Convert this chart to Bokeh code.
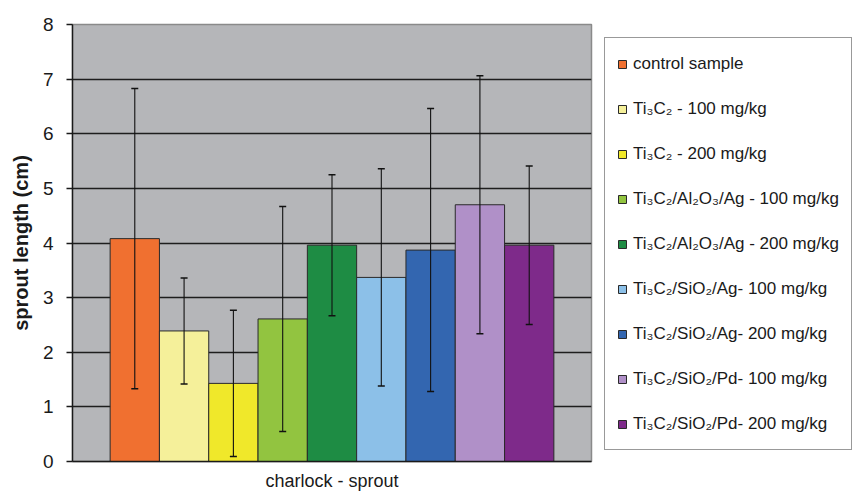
from bokeh.plotting import figure
from bokeh.models import (ColumnDataSource, FactorRange, Range1d, Whisker, Legend,
                          LegendItem, FixedTicker, TeeHead)
from bokeh.transform import dodge
from bokeh.embed import file_html
from bokeh.resources import INLINE

# ---- data ----
group = ["charlock - sprout"]
series = [
    "control sample",
    "Ti₃C₂ - 100 mg/kg",
    "Ti₃C₂ - 200 mg/kg",
    "Ti₃C₂/Al₂O₃/Ag - 100 mg/kg",
    "Ti₃C₂/Al₂O₃/Ag - 200 mg/kg",
    "Ti₃C₂/SiO₂/Ag- 100 mg/kg",
    "Ti₃C₂/SiO₂/Ag- 200 mg/kg",
    "Ti₃C₂/SiO₂/Pd- 100 mg/kg",
    "Ti₃C₂/SiO₂/Pd- 200 mg/kg",
]
means = [4.08, 2.39, 1.43, 2.61, 3.96, 3.37, 3.87, 4.70, 3.96]
sds = [2.75, 0.97, 1.34, 2.06, 1.29, 1.99, 2.59, 2.36, 1.45]
colors = ["#F07030", "#F5F09A", "#F0E82A", "#92C440", "#1E8C44",
          "#8CC0E8", "#3366B0", "#B090C8", "#7E2A8A"]
y_ticks = [0, 1, 2, 3, 4, 5, 6, 7, 8]

FONT = "Liberation Sans"

p = figure(frame_width=519, frame_height=437,
           x_range=FactorRange(*group, range_padding=0),
           y_range=Range1d(0, 8),
           output_backend="svg", toolbar_location=None,
           min_border_left=72, min_border_right=0,
           min_border_top=24, min_border_bottom=33)

p.background_fill_color = "#B5B6B9"
p.border_fill_color = "white"
p.outline_line_color = "#8A8A8A"
p.outline_line_width = 1.5

bw = 0.95 / len(series) * 0.9
items = []
for i, (name, m, s, c) in enumerate(zip(series, means, sds, colors)):
    off = (i - (len(series) - 1) / 2) * bw
    src = ColumnDataSource(dict(x=group, top=[m], upper=[m + s], lower=[m - s]))
    r = p.vbar(x=dodge("x", off, range=p.x_range), top="top", width=bw, source=src,
               fill_color=c, line_color="#2A2A2A", line_width=1)
    w = Whisker(base=dodge("x", off, range=p.x_range), upper="upper", lower="lower",
                source=src, line_color="#111111", line_width=1.1, level="overlay",
                upper_head=TeeHead(size=7, line_color="#111111", line_width=1.5),
                lower_head=TeeHead(size=7, line_color="#111111", line_width=1.5))
    p.add_layout(w)
    items.append(LegendItem(label=name, renderers=[r]))

# grid
p.xgrid.grid_line_color = None
p.ygrid.ticker = FixedTicker(ticks=y_ticks[1:-1])
p.ygrid.grid_line_color = "#1E1E1E"
p.ygrid.grid_line_width = 1.4

# y axis
p.yaxis.ticker = FixedTicker(ticks=y_ticks)
p.yaxis.axis_label = "sprout length (cm)"
p.yaxis.axis_label_text_font = FONT
p.yaxis.axis_label_text_font_style = "bold"
p.yaxis.axis_label_text_font_size = "20px"
p.yaxis.axis_label_text_color = "#1A1A1A"
p.yaxis.axis_label_standoff = 8
p.yaxis.major_label_text_font = FONT
p.yaxis.major_label_text_font_size = "19px"
p.yaxis.major_label_text_color = "#1A1A1A"
p.yaxis.major_label_standoff = 13
p.yaxis.major_tick_in = 0
p.yaxis.major_tick_out = 6
p.yaxis.minor_tick_line_color = None
p.yaxis.axis_line_color = "#1A1A1A"
p.yaxis.axis_line_width = 1.4
p.yaxis.major_tick_line_color = "#1A1A1A"
p.yaxis.major_tick_line_width = 1.4

# x axis
p.xaxis.major_tick_line_color = None
p.xaxis.major_tick_out = 0
p.xaxis.major_label_text_font = FONT
p.xaxis.major_label_text_font_size = "18px"
p.xaxis.major_label_text_color = "#1A1A1A"
p.xaxis.major_label_standoff = 9
p.xaxis.axis_line_color = "#1A1A1A"
p.xaxis.axis_line_width = 1.4

legend = Legend(items=items, location="top_left",
                label_text_font=FONT, label_text_font_size="17px",
                label_text_color="#1A1A1A",
                glyph_width=10, glyph_height=10, label_height=27,
                spacing=18, padding=12, margin=13, label_standoff=6,
                border_line_color="#333333", border_line_width=1.3,
                background_fill_color="white", background_fill_alpha=1)
p.add_layout(legend, "right")

open("out.html", "w").write(file_html(p, INLINE))
